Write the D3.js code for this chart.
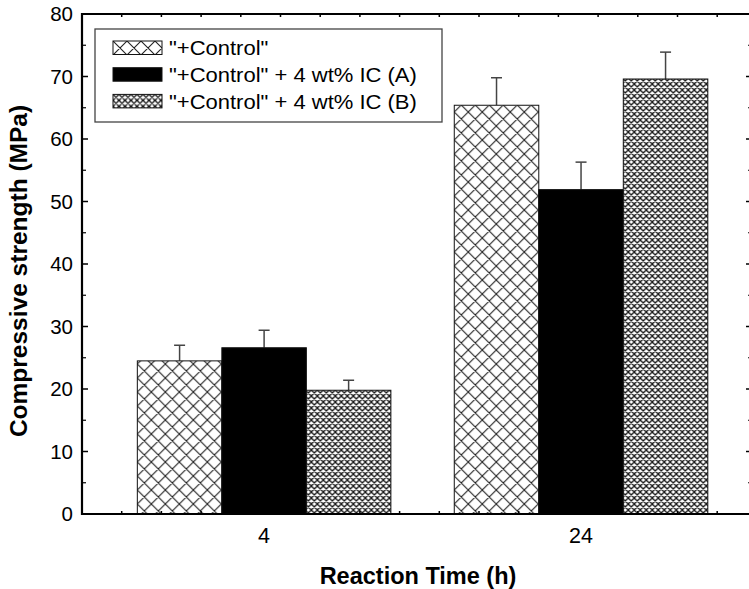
<!DOCTYPE html>
<html>
<head>
<meta charset="utf-8">
<script src="https://cdn.jsdelivr.net/npm/d3@7"></script>
<style>
  body { margin: 0; background: #fff; }
  svg { display: block; font-family: "Liberation Sans", Arial, sans-serif; }
</style>
</head>
<body>
<svg id="chart" width="749" height="589"></svg>
<script>
// data
const categories = ["4", "24"];
const seriesNames = ['"+Control"', '"+Control" + 4 wt% IC (A)', '"+Control" + 4 wt% IC (B)'];
const controlValues = [24.5, 65.4];
const controlErrors = [2.5, 4.4];
const icAValues = [26.6, 51.9];
const icAErrors = [2.8, 4.4];
const icBValues = [19.8, 69.6];
const icBErrors = [1.6, 4.3];
const yTicks = [0, 10, 20, 30, 40, 50, 60, 70, 80];

const series = [
  { key: "ctrl", name: seriesNames[0], values: controlValues, errors: controlErrors, fill: "url(#hatchWide)" },
  { key: "icA", name: seriesNames[1], values: icAValues, errors: icAErrors, fill: "#000" },
  { key: "icB", name: seriesNames[2], values: icBValues, errors: icBErrors, fill: "url(#hatchFine)" }
];

const svg = d3.select("#chart");
const pLeft = 82, pRight = 752, pTop = 14, pBottom = 514;

const y = d3.scaleLinear().domain([0, 80]).range([pBottom, pTop]);
const x0 = d3.scaleBand()
  .domain(categories)
  .range([pLeft, pRight])
  .paddingInner(0.2)
  .paddingOuter(0.157)
  .align(0.556);
const x1 = d3.scaleBand()
  .domain(series.map(s => s.key))
  .range([0, x0.bandwidth()]);

// hatch patterns
const defs = svg.append("defs");
function hatch(id, size, width, color) {
  const p = defs.append("pattern")
    .attr("id", id)
    .attr("patternUnits", "userSpaceOnUse")
    .attr("width", size)
    .attr("height", size);
  p.append("rect").attr("width", size).attr("height", size).attr("fill", "#fff");
  p.append("path")
    .attr("d", `M0,0L${size},${size}M${size},0L0,${size}M-1,${size - 1}L1,${size + 1}M${size - 1},-1L${size + 1},1M-1,1L1,-1M${size - 1},${size + 1}L${size + 1},${size - 1}`)
    .attr("stroke", color)
    .attr("stroke-width", width)
    .attr("fill", "none");
}
hatch("hatchWide", 14, 1.1, "#222");
hatch("hatchFine", 6, 1.35, "#1a1a1a");

// bars
const groups = svg.append("g")
  .selectAll("g")
  .data(categories)
  .join("g")
  .attr("transform", d => `translate(${x0(d)},0)`);

const barData = (c, i) => series.map(s => ({ key: s.key, v: s.values[i], e: s.errors[i], fill: s.fill }));

groups.selectAll("g.err")
  .data(barData)
  .join("g")
  .attr("class", "err")
  .each(function (d) {
    const g = d3.select(this);
    const cx = x1(d.key) + x1.bandwidth() / 2;
    g.append("line")
      .attr("x1", cx).attr("x2", cx)
      .attr("y1", y(d.v)).attr("y2", y(d.v + d.e))
      .attr("stroke", "#444").attr("stroke-width", 1.5);
    g.append("line")
      .attr("x1", cx - 5.5).attr("x2", cx + 5.5)
      .attr("y1", y(d.v + d.e)).attr("y2", y(d.v + d.e))
      .attr("stroke", "#444").attr("stroke-width", 1.5);
  });

groups.selectAll("rect")
  .data(barData)
  .join("rect")
  .attr("x", d => x1(d.key))
  .attr("width", x1.bandwidth())
  .attr("y", d => y(d.v))
  .attr("height", d => y(0) - y(d.v))
  .attr("fill", d => d.fill)
  .attr("stroke", "#111")
  .attr("stroke-width", 1);

// frame + ticks
const frame = svg.append("g").attr("stroke", "#000").attr("fill", "none");
const minorY = d3.range(5, 80, 10);
frame.selectAll("line.ly").data(yTicks).join("line").attr("class", "ly")
  .attr("x1", pLeft).attr("x2", pLeft + 6).attr("y1", d => y(d)).attr("y2", d => y(d)).attr("stroke-width", 1.5);
frame.selectAll("line.lym").data(minorY).join("line").attr("class", "lym")
  .attr("x1", pLeft).attr("x2", pLeft + 4).attr("y1", d => y(d)).attr("y2", d => y(d)).attr("stroke-width", 1.2);
frame.selectAll("line.ry").data(yTicks).join("line").attr("class", "ry")
  .attr("x1", pRight).attr("x2", pRight - 6).attr("y1", d => y(d)).attr("y2", d => y(d)).attr("stroke-width", 1.5);
frame.selectAll("line.rym").data(minorY).join("line").attr("class", "rym")
  .attr("x1", pRight).attr("x2", pRight - 4).attr("y1", d => y(d)).attr("y2", d => y(d)).attr("stroke-width", 1.2);

const xMinor = d3.scaleLinear().domain([0, 17]).range([pLeft, pLeft + 17 * 39.7]);
const xTickPos = d3.range(0, 18).map(i => xMinor(i));
frame.selectAll("line.bx").data(xTickPos).join("line").attr("class", "bx")
  .attr("x1", d => d).attr("x2", d => d).attr("y1", pBottom).attr("y2", pBottom - 3).attr("stroke-width", 1.5);
frame.selectAll("line.tx").data(xTickPos).join("line").attr("class", "tx")
  .attr("x1", d => d).attr("x2", d => d).attr("y1", pTop).attr("y2", pTop + 3).attr("stroke-width", 1.5);

frame.append("path")
  .attr("d", `M${pLeft},${pTop}L${pRight},${pTop}L${pRight},${pBottom}L${pLeft},${pBottom}Z`)
  .attr("stroke-width", 2.2);

// tick labels
svg.append("g").selectAll("text").data(yTicks).join("text")
  .attr("x", pLeft - 9).attr("y", d => y(d)).attr("dy", "0.36em")
  .attr("text-anchor", "end").attr("font-size", 20.5)
  .text(d => d);

svg.append("g").selectAll("text").data(categories).join("text")
  .attr("x", d => x0(d) + x0.bandwidth() / 2).attr("y", 543)
  .attr("text-anchor", "middle").attr("font-size", 21.5)
  .text(d => d);

svg.append("text")
  .attr("x", 418).attr("y", 584)
  .attr("text-anchor", "middle").attr("font-size", 23.5).attr("font-weight", "bold")
  .text("Reaction Time (h)");

svg.append("text")
  .attr("transform", "translate(27,271) rotate(-90)")
  .attr("text-anchor", "middle").attr("font-size", 24.5).attr("font-weight", "bold")
  .text("Compressive strength (MPa)");

// legend
const legend = svg.append("g");
legend.append("rect")
  .attr("x", 95).attr("y", 29).attr("width", 347).attr("height", 93)
  .attr("fill", "#fff").attr("stroke", "#444").attr("stroke-width", 1.3);
const rows = legend.selectAll("g.row").data(series).join("g").attr("class", "row")
  .attr("transform", (d, i) => `translate(113,${41 + i * 26.7})`);
rows.append("rect")
  .attr("width", 49).attr("height", 13.5)
  .attr("fill", d => d.fill).attr("stroke", "#111").attr("stroke-width", 1);
rows.append("text")
  .attr("transform", "translate(56,7) scale(1.1,1)")
  .attr("dy", "0.36em")
  .attr("font-size", 20)
  .text(d => d.name);
</script>
</body>
</html>
